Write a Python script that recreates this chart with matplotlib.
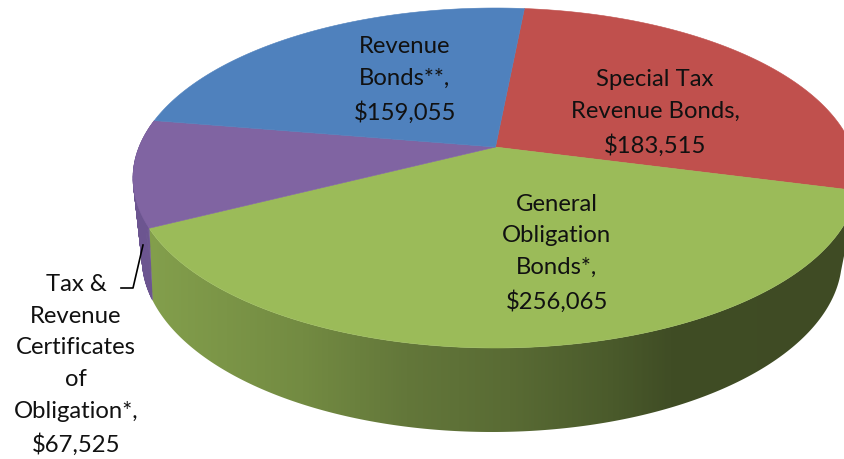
# 3D pie of bond debt by type, drawn with plain polygons (matplotlib has no perspective pie)

import numpy as np
import matplotlib
matplotlib.use("Agg")
import matplotlib.pyplot as plt
from matplotlib.colors import LinearSegmentedColormap
from matplotlib.patches import Polygon
from matplotlib.collections import PolyCollection

plt.rcParams["font.family"] = ["Lato", "DejaVu Sans"]

# clockwise from the top of the pie
categories = [
    "Special Tax\nRevenue Bonds,",
    "General\nObligation\nBonds*,",
    "Tax &\nRevenue\nCertificates\nof\nObligation*,",
    "Revenue\nBonds**,",
]
values = [183515, 256065, 67525, 159055]
colors = ["#C0504D", "#9BBB59", "#8064A2", "#4F81BD"]

START_ANGLE = 5.5
WALL_SKEW = 3.0  # the green/purple seam leans a little on the side wall
TOP = dict(cx=495.5, cy=178.0, rx=362.5, ry=170.0)
BOTTOM = dict(cx=492.0, cy=258.0, rx=350.0, ry=174.0)
K = 0.182  # moves the pie centre up the ellipse, for the perspective look

LABEL_POS = [(655, 113), (557, 253), (76, 365), (405, 80)]
WALL_PURPLE = "#6C5590"
wall_green = LinearSegmentedColormap.from_list(
    "wall",
    [(0.0, "#839F4C"), (0.22, "#738B42"), (0.37, "#63773A"), (0.52, "#596B34"),
     (0.67, "#4A5A2B"), (0.75, "#404D25"), (1.0, "#3F4B24")],
)


def project(theta, e):
    """Angle clockwise from top (deg) to pixel position on ellipse e."""
    t = np.radians(theta)
    x0, y0 = np.sin(t), np.cos(t)
    d = 1 + K * y0
    x = x0 * np.sqrt(1 - K**2) / d
    y = (y0 + K) / d
    return e["cx"] + e["rx"] * x, e["cy"] - e["ry"] * y


def arc(a, b, e, n=200):
    xs, ys = project(np.linspace(a, b, n), e)
    return np.column_stack([xs, ys])


fig = plt.figure(figsize=(8.45, 4.59), dpi=100)
ax = fig.add_axes([0, 0, 1, 1])

total = sum(values)
sweeps = [v / total * 360 for v in values]
edges = START_ANGLE + np.concatenate([[0], np.cumsum(sweeps)])

# side wall: green is a left-right gradient clipped to the wall shape
green_wall = Polygon(
    np.vstack([arc(edges[1], edges[2], TOP), arc(edges[2] + WALL_SKEW, edges[1], BOTTOM)]),
    closed=True, transform=ax.transData, facecolor="none", edgecolor="none",
)
ax.add_patch(green_wall)
img = ax.imshow(
    np.linspace(0, 1, 700)[None, :], cmap=wall_green, aspect="auto",
    extent=(148, 845, 459, 0), interpolation="bilinear",
)
img.set_clip_path(green_wall)

# purple wall as quads, so the stretch between the two ellipses gets filled too
top_arc = arc(edges[2], edges[3], TOP, n=80)
bot_arc = arc(edges[2] + WALL_SKEW, edges[3], BOTTOM, n=80)
quads = [[top_arc[j], top_arc[j + 1], bot_arc[j + 1], bot_arc[j]] for j in range(len(top_arc) - 1)]
ax.add_collection(PolyCollection(quads, facecolors=WALL_PURPLE, edgecolors=WALL_PURPLE, linewidths=0.4))

# top face
centre = (TOP["cx"], TOP["cy"] - TOP["ry"] * K)
for i, col in enumerate(colors):
    pts = np.vstack([[centre], arc(edges[i], edges[i + 1], TOP)])
    ax.add_patch(Polygon(pts, closed=True, facecolor=col, edgecolor=col, linewidth=0.4))

# labels
for cat, val, (lx, ly) in zip(categories, values, LABEL_POS):
    ax.text(lx, ly, f"{cat}\n${val:,}", ha="center", va="center",
            fontsize=17.2, color="#111111", linespacing=1.63)

# leader for the small slice
ax.plot([143, 133, 121], [245, 288, 288], color="black", linewidth=1.2)

ax.set_xlim(0, 845)
ax.set_ylim(459, 0)
ax.axis("off")

fig.savefig("out.png", dpi=100)
